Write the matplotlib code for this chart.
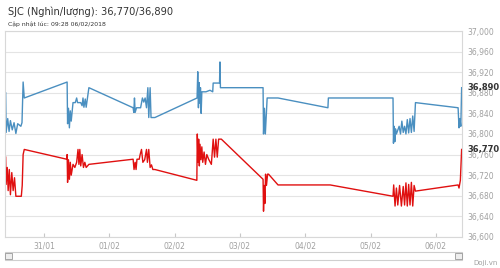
import pandas as pd
import matplotlib
matplotlib.use("Agg")
import matplotlib.pyplot as plt
from matplotlib.patches import Rectangle

# gia ban (xanh)
sell_times = [
    "01-30 09:55", "01-30 10:05", "01-30 10:40", "01-30 11:10", "01-30 11:40", "01-30 12:20",
    "01-30 13:00", "01-30 13:40", "01-30 14:20", "01-30 15:30", "01-30 15:55", "01-30 16:20",
    "01-30 16:45",
    "01-31 08:30", "01-31 08:40", "01-31 09:00", "01-31 09:20", "01-31 09:40", "01-31 10:00",
    "01-31 10:40", "01-31 11:30", "01-31 12:00", "01-31 12:20", "01-31 13:30", "01-31 14:00",
    "01-31 14:20", "01-31 14:40", "01-31 15:10", "01-31 15:30", "01-31 16:30",
    "02-01 08:45", "02-01 09:00", "02-01 09:15", "02-01 09:30", "02-01 10:00", "02-01 11:30",
    "02-01 12:10", "02-01 12:40", "02-01 13:10", "02-01 13:40", "02-01 14:10", "02-01 14:30",
    "02-01 15:00", "02-01 15:20", "02-01 16:45",
    "02-02 08:15", "02-02 08:30", "02-02 08:45", "02-02 09:00", "02-02 09:15", "02-02 09:30",
    "02-02 09:45", "02-02 10:00", "02-02 11:30", "02-02 13:00", "02-02 14:00", "02-02 14:10",
    "02-02 16:30", "02-02 16:40", "02-02 16:50",
    "02-03 08:30", "02-03 08:40", "02-03 09:00", "02-03 09:20", "02-03 10:00", "02-03 14:00",
    "02-04 08:20", "02-04 08:30",
    "02-05 08:15", "02-05 08:25", "02-05 08:40", "02-05 08:55", "02-05 09:10", "02-05 09:30",
    "02-05 10:30", "02-05 11:00", "02-05 11:30", "02-05 12:00", "02-05 12:30", "02-05 13:00",
    "02-05 13:30", "02-05 14:00", "02-05 14:30", "02-05 15:00", "02-05 15:30", "02-05 16:00",
    "02-05 16:30",
    "02-06 08:10", "02-06 08:30", "02-06 08:50", "02-06 09:10", "02-06 09:28",
]
sell_values = [
    36880, 36803, 36830, 36805, 36826, 36808,
    36822, 36801, 36820, 36815, 36822, 36901,
    36870,
    36901, 36820, 36850, 36812, 36845, 36825,
    36861, 36861, 36870, 36861, 36861, 36855,
    36870, 36852, 36868, 36852, 36890,
    36851, 36842, 36870, 36842, 36851, 36851,
    36870, 36862, 36870, 36851, 36890, 36832,
    36890, 36832, 36832,
    36870, 36921, 36851, 36900, 36860, 36890,
    36840, 36882, 36882, 36885, 36882, 36899,
    36899, 36940, 36890,
    36890, 36800, 36850, 36800, 36870, 36870,
    36851, 36870,
    36870, 36782, 36815, 36785, 36810, 36800,
    36815, 36800, 36825, 36803, 36815, 36800,
    36828, 36802, 36830, 36803, 36835, 36805,
    36861,
    36851, 36812, 36830, 36815, 36890,
]

# gia mua (do)
buy_times = [
    "01-30 09:55", "01-30 10:05", "01-30 10:30", "01-30 10:50", "01-30 11:15", "01-30 11:40",
    "01-30 12:10", "01-30 12:40", "01-30 13:10", "01-30 13:40", "01-30 15:40", "01-30 16:00",
    "01-30 16:20", "01-30 16:45",
    "01-31 08:20", "01-31 08:30", "01-31 08:40", "01-31 09:00", "01-31 09:20", "01-31 09:40",
    "01-31 10:00", "01-31 10:40", "01-31 11:20", "01-31 12:00", "01-31 12:30", "01-31 12:50",
    "01-31 13:10", "01-31 13:30", "01-31 14:00", "01-31 14:30", "01-31 15:00", "01-31 15:30",
    "01-31 16:30",
    "02-01 08:45", "02-01 09:05", "02-01 09:30", "02-01 09:50", "02-01 10:10", "02-01 11:00",
    "02-01 11:20", "02-01 11:50", "02-01 12:20", "02-01 13:00", "02-01 13:40", "02-01 14:00",
    "02-01 14:30", "02-01 15:00", "02-01 15:30", "02-01 16:00", "02-01 16:45",
    "02-02 08:10", "02-02 08:20", "02-02 08:35", "02-02 08:50", "02-02 09:05", "02-02 09:20",
    "02-02 09:40", "02-02 10:00", "02-02 10:20", "02-02 10:50", "02-02 11:20", "02-02 11:50",
    "02-02 12:30", "02-02 13:30", "02-02 14:10", "02-02 14:40", "02-02 15:10", "02-02 15:40",
    "02-02 16:10", "02-02 17:10",
    "02-03 08:30", "02-03 08:40", "02-03 08:55", "02-03 09:10", "02-03 09:25", "02-03 09:45",
    "02-03 10:10", "02-03 10:30", "02-03 14:00",
    "02-04 09:10",
    "02-05 08:15", "02-05 08:30", "02-05 09:00", "02-05 09:30", "02-05 10:00", "02-05 10:40",
    "02-05 11:20", "02-05 12:00", "02-05 12:30", "02-05 13:00", "02-05 13:30", "02-05 14:00",
    "02-05 14:30", "02-05 15:00", "02-05 15:30", "02-05 16:00", "02-05 16:30",
    "02-06 08:10", "02-06 08:30", "02-06 09:00", "02-06 09:28",
]
buy_values = [
    36755, 36702, 36735, 36690, 36731, 36682,
    36725, 36690, 36715, 36679, 36679, 36700,
    36760, 36770,
    36751, 36760, 36706, 36750, 36712, 36745,
    36720, 36741, 36735, 36745, 36770, 36741,
    36770, 36738, 36760, 36735, 36745, 36735,
    36741,
    36751, 36731, 36745, 36731, 36751, 36751,
    36760, 36770, 36745, 36750, 36770, 36745,
    36770, 36735, 36740, 36731, 36731,
    36710, 36800, 36745, 36790, 36738, 36780,
    36750, 36775, 36745, 36765, 36741, 36760,
    36751, 36741, 36790, 36755, 36790, 36755,
    36790, 36790,
    36712, 36650, 36700, 36665, 36722, 36700,
    36722, 36722, 36701,
    36701,
    36679, 36701, 36660, 36695, 36662, 36700,
    36660, 36698, 36662, 36705, 36660, 36702,
    36662, 36706, 36660, 36700, 36689,
    36701, 36695, 36710, 36770,
]

tick_days = ["31/01", "01/02", "02/02", "03/02", "04/02", "05/02", "06/02"]
y_ticks = [36600, 36640, 36680, 36720, 36760, 36800, 36840, 36880, 36920, 36960, 37000]


def to_dt(times):
    return pd.to_datetime(["2018-" + t for t in times], format="%Y-%m-%d %H:%M")


sell_x = to_dt(sell_times)
buy_x = to_dt(buy_times)
ticks_x = pd.to_datetime(["2018-" + d[3:] + "-" + d[:2] for d in tick_days])

fig = plt.figure(figsize=(5, 2.68), dpi=100)
fig.patch.set_facecolor("white")
ax = fig.add_axes([0.01, 0.116, 0.914, 0.768])

ax.plot(sell_x, sell_values, color="#4a8fc0", lw=1.0)
ax.plot(buy_x, buy_values, color="#e01010", lw=1.0)

start = pd.Timestamp("2018-01-31") + pd.Timedelta(days=-0.597)
end = pd.Timestamp("2018-01-31") + pd.Timedelta(days=6.40)
ax.set_xlim(start, end)
ax.set_ylim(36600, 37000)

ax.set_yticks(y_ticks)
ax.set_yticklabels([f"{v:,}" for v in y_ticks])
ax.yaxis.tick_right()
ax.tick_params(axis="y", length=0, labelsize=5.5, labelcolor="#a0a0a0", pad=4)
ax.set_xticks(ticks_x)
ax.set_xticklabels(tick_days)
ax.tick_params(axis="x", direction="in", length=3, color="#c8c8c8",
               labelsize=5.5, labelcolor="#a0a0a0", pad=3)
ax.grid(axis="y", color="#e4e4e4", lw=0.8)
ax.set_axisbelow(True)
for s in ax.spines.values():
    s.set_color("#d8d8d8")
    s.set_linewidth(0.8)

# gia cuoi cung
for v in [sell_values[-1], buy_values[-1]]:
    ax.annotate(f"{v:,}", xy=(1, v), xycoords=("axes fraction", "data"),
                xytext=(4, 0), textcoords="offset points", va="center",
                fontsize=6, fontweight="bold", color="#333333")

fig.text(0.016, 0.955, f"SJC (Nghìn/lượng): {buy_values[-1]:,}/{sell_values[-1]:,}",
         fontsize=7.1, color="#333333", va="center")
fig.text(0.016, 0.91, "Cập nhật lúc: 09:28 06/02/2018", fontsize=4.4,
         color="#333333", va="center")

# thanh cuon
fig.patches.append(Rectangle((0.01, 0.03), 0.914, 0.028, transform=fig.transFigure,
                             facecolor="white", edgecolor="#cfcfcf", lw=0.8))
for bx in [0.01, 0.91]:
    fig.patches.append(Rectangle((bx, 0.033), 0.014, 0.022, transform=fig.transFigure,
                                 facecolor="#eeeeee", edgecolor="#999999", lw=0.6))
fig.text(0.995, 0.018, "Doji.vn", fontsize=5, color="#a0a0a0", ha="right", va="center")

fig.savefig("out.png", dpi=100)
